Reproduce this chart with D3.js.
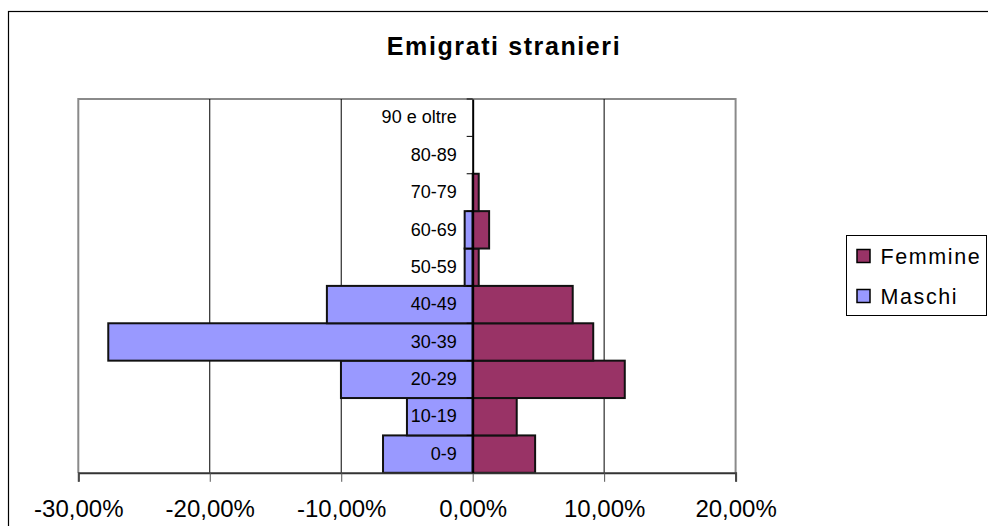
<!DOCTYPE html>
<html>
<head>
<meta charset="utf-8">
<script src="https://cdn.jsdelivr.net/npm/d3@7"></script>
<style>
  html, body { margin: 0; padding: 0; background: #fff; }
  svg { display: block; font-family: "Liberation Sans", Arial, sans-serif; }
</style>
</head>
<body>
<svg id="chart" width="988" height="526"></svg>
<script>
// Age classes, bottom to top
const classi = ["0-9", "10-19", "20-29", "30-39", "40-49", "50-59", "60-69", "70-79", "80-89", "90 e oltre"];
// Share of foreign emigrants (%), males stored as negatives for the left side
const maschi  = [-6.82, -5.00, -10.02, -27.72, -11.09, -0.61, -0.61, 0, 0, 0];
const femmine = [4.75, 3.35, 11.57, 9.17, 7.61, 0.46, 1.25, 0.46, 0, 0];
const xTicks = [-30, -20, -10, 0, 10, 20];
const serie = ["Femmine", "Maschi"];
const colori = { Femmine: "#993366", Maschi: "#9999FF" };

const svg = d3.select("#chart");
const plot = { left: 78.3, right: 735.6, top: 99, bottom: 472.8 };

const x = d3.scaleLinear().domain([-30, 20]).range([plot.left, plot.right]);
const y = d3.scaleBand().domain(classi.slice().reverse()).range([plot.top, plot.bottom]).padding(0);

const it = d3.formatLocale({ decimal: ",", thousands: ".", grouping: [3], currency: ["", "€"], minus: "-" });
const fmt = v => it.format(".2f")(v) + "%";

// outer chart frame
svg.append("rect")
  .attr("x", 8.5).attr("y", 11.5).attr("width", 1000).attr("height", 540)
  .attr("fill", "#fff").attr("stroke", "#000").attr("stroke-width", 1.2);

// title
svg.append("text")
  .attr("x", 504).attr("y", 54.5)
  .attr("text-anchor", "middle")
  .attr("font-size", 25).attr("font-weight", "bold")
  .attr("letter-spacing", 1.6)
  .text("Emigrati stranieri");

// plot frame (top, left, right)
svg.append("path")
  .attr("d", `M${plot.left},${plot.bottom}V${plot.top}H${plot.right}V${plot.bottom}`)
  .attr("fill", "none").attr("stroke", "#8a8a8a").attr("stroke-width", 2);

// vertical gridlines
svg.append("g").selectAll("line")
  .data(xTicks.filter(t => t !== 0 && t !== -30 && t !== 20))
  .join("line")
  .attr("x1", d => x(d)).attr("x2", d => x(d))
  .attr("y1", plot.top).attr("y2", plot.bottom)
  .attr("stroke", "#000").attr("stroke-width", 1);

// bars
const rows = classi.map((c, i) => ({ c, m: maschi[i], f: femmine[i] }));
const gBars = svg.append("g");
gBars.selectAll("rect.m")
  .data(rows.filter(d => d.m !== 0))
  .join("rect")
  .attr("class", "m")
  .attr("x", d => x(d.m)).attr("width", d => x(0) - x(d.m))
  .attr("y", d => y(d.c)).attr("height", y.bandwidth())
  .attr("fill", colori.Maschi).attr("stroke", "#111").attr("stroke-width", 2);
gBars.selectAll("rect.f")
  .data(rows.filter(d => d.f !== 0))
  .join("rect")
  .attr("class", "f")
  .attr("x", x(0)).attr("width", d => x(d.f) - x(0))
  .attr("y", d => y(d.c)).attr("height", y.bandwidth())
  .attr("fill", colori.Femmine).attr("stroke", "#111").attr("stroke-width", 2);

// bottom value axis
const xAxis = svg.append("g")
  .attr("transform", `translate(0,${plot.bottom})`)
  .call(d3.axisBottom(x).tickValues(xTicks).tickFormat(fmt).tickSize(9).tickPadding(18));
xAxis.select(".domain").attr("stroke", "#333").attr("stroke-width", 2);
xAxis.selectAll(".tick line").attr("stroke", "#555");
xAxis.selectAll(".tick text")
  .attr("font-size", 24).attr("fill", "#000")
  .attr("font-family", "Liberation Sans, Arial, sans-serif")
  .attr("dy", "0.71em");

// category axis at zero
const yAxis = svg.append("g")
  .attr("transform", `translate(${x(0)},0)`)
  .call(d3.axisLeft(y).tickSize(0).tickPadding(16));
yAxis.select(".domain").attr("stroke", "#000").attr("stroke-width", 2);
yAxis.selectAll(".tick text")
  .attr("font-size", 18).attr("fill", "#000")
  .attr("font-family", "Liberation Sans, Arial, sans-serif");

// small ticks between classes
const bounds = classi.slice().reverse().map(c => y(c));
yAxis.append("g").selectAll("line")
  .data(bounds)
  .join("line")
  .attr("x1", -6).attr("x2", 0)
  .attr("y1", d => d).attr("y2", d => d)
  .attr("stroke", "#000").attr("stroke-width", 1);

// legend
const leg = svg.append("g");
leg.append("rect")
  .attr("x", 846.5).attr("y", 235.5).attr("width", 140).attr("height", 80)
  .attr("fill", "#fff").attr("stroke", "#000").attr("stroke-width", 1);
const li = leg.selectAll("g.item").data(serie).join("g")
  .attr("class", "item")
  .attr("transform", (d, i) => `translate(857,${256 + i * 40})`);
li.append("rect")
  .attr("x", 0).attr("y", -6.5).attr("width", 13).attr("height", 13)
  .attr("fill", d => colori[d]).attr("stroke", "#000").attr("stroke-width", 1.5);
li.append("text")
  .attr("x", 23.5).attr("y", 7.5)
  .attr("font-size", 21.5).attr("letter-spacing", 1.6)
  .text(d => d);
</script>
</body>
</html>
